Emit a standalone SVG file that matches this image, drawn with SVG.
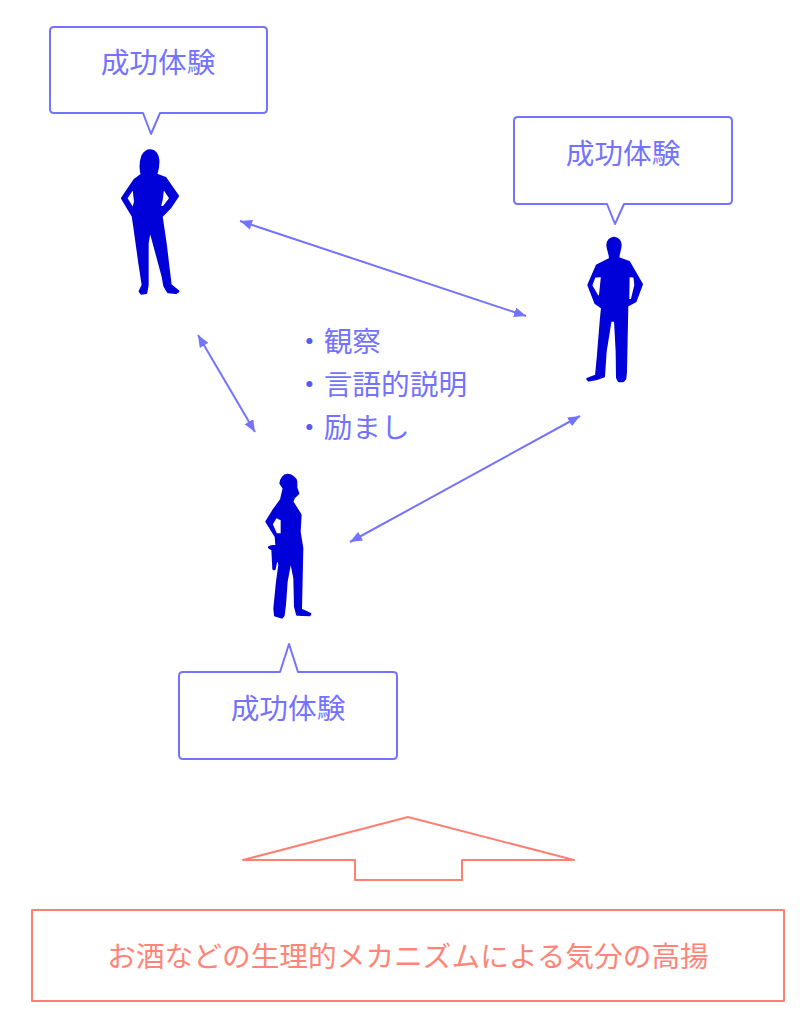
<svg xmlns="http://www.w3.org/2000/svg" width="800" height="1027" viewBox="0 0 800 1027">
<style>
.box{fill:#fff;stroke:#7373ff;stroke-width:2;stroke-linejoin:round}
.t{font-family:"Noto Sans CJK JP","Liberation Sans",sans-serif;font-size:28.7px;fill:#7373ff}
.b{fill:#5a5af0}
.o{fill:#ff8578}
.r{fill:#fff;stroke:#ff8073;stroke-width:2;stroke-linejoin:round}
.fig{fill:#0606d8;fill-rule:evenodd;stroke:#0606d8;stroke-width:8;stroke-linejoin:round;filter:url(#soft)}
.c{stroke:#7373ff;stroke-width:2;fill:none;marker-start:url(#s);marker-end:url(#e)}
</style>
<defs>
<filter id="soft" x="-10%" y="-10%" width="120%" height="120%"><feGaussianBlur stdDeviation="1.8"/></filter>
<marker id="e" markerWidth="14" markerHeight="12" refX="12" refY="5" orient="auto" markerUnits="userSpaceOnUse"><path d="M0 0L12 5L0 10Z" fill="#7373ff"/></marker>
<marker id="s" markerWidth="14" markerHeight="12" refX="1" refY="5" orient="auto" markerUnits="userSpaceOnUse"><path d="M13 0L1 5L13 10Z" fill="#7373ff"/></marker>
</defs>
<g id="connectors">
<path class="c" d="M240 221L526 316"/>
<path class="c" d="M198 335L255 432"/>
<path class="c" d="M350 542L580 416"/>
</g>
<g id="bubble-1">
<path class="box" d="M54 27H263Q267 27 267 31V109Q267 113 263 113H160L151 134L143 113H54Q50 113 50 109V31Q50 27 54 27Z"/>
<text class="t" x="158" y="73" text-anchor="middle">成功体験</text>
</g>
<g id="bubble-2">
<path class="box" d="M518 117H728Q732 117 732 121V200Q732 204 728 204H624L615 224L607 204H518Q514 204 514 200V121Q514 117 518 117Z"/>
<text class="t" x="623" y="164" text-anchor="middle">成功体験</text>
</g>
<g id="bubble-3">
<path class="box" d="M183 672H280L289 644L298 672H393Q397 672 397 676V755Q397 759 393 759H183Q179 759 179 755V676Q179 672 183 672Z"/>
<text class="t" x="288" y="719" text-anchor="middle">成功体験</text>
</g>
<g id="person-1" transform="translate(100 130) scale(.3333)">
<path class="fig" d="M150 62C164 62 173 75 174 90C176 105 172 120 168 134L196 145L233 198L211 231L184 259L196 340L208 440L211 465L234 484L228 488L205 486L194 468L189 440L150 295L142 340L142 465L138 488L124 490L120 484L129 465L119 400L104 292L99 258L67 205L104 150L126 134C120 112 122 95 128 78C134 68 140 62 150 62ZM101 170L78 205L100 240L106 215ZM189 170L184 210L179 230L191 232L212 205Z"/>
</g>
<g id="person-2" transform="translate(565 225) scale(.3333)">
<path class="fig" d="M147 39C158 39 166 49 166 60C166 72 160 82 159 100L192 112L230 178L211 228L186 242L184 340L182 440L180 461L174 468L162 468L157 458L156 380L151 286L136 286L121 380L116 454L95 461L72 466L68 462L94 452L99 400L108 290L112 248L92 234L71 180L96 122L136 102C136 85 128 72 128 60C128 49 136 39 147 39ZM88 154L78 182L101 221L106 210L112 152ZM190 152L189 226L201 226L212 180L209 154Z"/>
</g>
<g id="person-3" transform="translate(240 465) scale(.3333)">
<path class="fig" d="M142 30C154 30 166 39 168 50L168 68L174 85L161 98L156 110L181 150L178 200L186 250L184 340L182 434L210 447L208 450L172 448L166 425L164 340L152 280L139 350L134 420L130 451L125 457L106 451L104 430L112 350L119 300L112 270L103 312L101 312L98 254L88 247L110 240L108 215L80 170L99 139L124 104L132 70L122 55C124 42 132 30 142 30ZM108 154L94 178L108 209L126 209L126 164Z"/>
</g>
<g id="observation">
<text class="t" x="295" y="352"><tspan class="b">・</tspan>観察</text>
<text class="t" x="295" y="395"><tspan class="b">・</tspan>言語的説明</text>
<text class="t" x="295" y="438"><tspan class="b">・</tspan>励まし</text>
</g>
<g id="up-arrow">
<path class="r" d="M408 817L574 860H462V880H355V860H243Z"/>
</g>
<g id="mechanism">
<rect class="r" x="32" y="910" width="752" height="91"/>
<text class="t o" x="408" y="967" text-anchor="middle">お酒などの生理的メカニズムによる気分の高揚</text>
</g>
</svg>
